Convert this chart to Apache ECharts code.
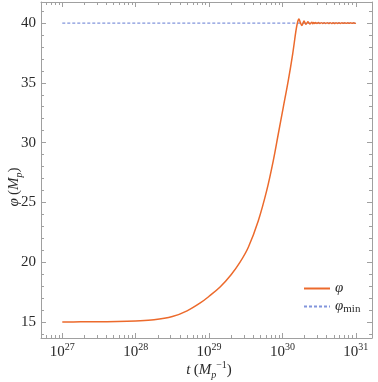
<!DOCTYPE html>
<html><head><meta charset="utf-8">
<script src="https://cdn.jsdelivr.net/npm/echarts@6/dist/echarts.min.js"></script>
<style>html,body{margin:0;padding:0;background:#fff}#c{width:378px;height:382px}</style>
</head><body><div id="c"></div>
<script>
// log10(t) values (t in Mp^-1)
const logT = [27.0, 27.25, 27.5, 27.75, 28.0, 28.25, 28.5, 28.7, 28.88, 29.0, 29.15, 29.3, 29.42, 29.535, 29.671, 29.785, 29.875, 29.943, 30.011, 30.079, 30.139, 30.184, 30.205, 30.224, 30.245, 30.265, 30.28, 30.293, 30.307, 30.32, 30.333, 30.347, 30.36, 30.374, 30.387, 30.40, 30.413, 30.427, 30.44, 30.453, 30.47, 30.49, 30.51, 30.53, 30.55, 30.57, 30.59, 30.61, 30.63, 30.65, 30.67, 30.69, 30.71, 30.73, 30.75, 30.77, 30.79, 30.81, 30.83, 30.85, 30.87, 30.89, 30.91, 30.93, 30.95, 30.97, 30.99, 31.0];
const phiVals = [15.00, 15.01, 15.02, 15.04, 15.09, 15.18, 15.45, 15.93, 16.59, 17.15, 17.92, 18.95, 19.98, 21.25, 23.47, 25.98, 28.49, 30.72, 32.95, 35.18, 37.41, 39.36, 40.05, 40.33, 40.02, 39.80, 39.98, 40.17, 40.03, 39.90, 40.00, 40.10, 40.00, 39.93, 40.00, 40.07, 39.95, 40.05, 39.96, 40.04, 39.96, 40.04, 39.965, 40.035, 39.965, 40.035, 39.967, 40.033, 39.968, 40.032, 39.97, 40.03, 39.97, 40.03, 39.972, 40.028, 39.972, 40.028, 39.974, 40.026, 39.975, 40.025, 39.976, 40.024, 39.977, 40.023, 39.978, 40.0];
const phiMinLogT = [27, 31];
const phiMinVals = [40, 40];
const xMajorTicks = [27, 28, 29, 30, 31];
const yMajorTicks = [15, 20, 25, 30, 35, 40];

const xMin = 26.71, xMax = 31.22, yMin = 13.66, yMax = 41.76;
const xMinorTicks = [];
for (let n = 26; n <= 31; n++) for (let k = 2; k <= 9; k++) {
  const v = n + Math.log10(k);
  if (v > xMin && v < xMax) xMinorTicks.push(v);
}
const yMinorTicks = [];
for (let v = 14; v <= 41; v++) if (v % 5 !== 0) yMinorTicks.push(v);

const frameColor = '#a0a0a0';
const serif = 'Liberation Serif';
const lab = '#2a2a2a';

function xAx(position, ticks, len, showLabel, showLine) {
  return {
    type: 'value', min: xMin, max: xMax, position: position,
    axisLine: {show: showLine, onZero: false, lineStyle: {color: frameColor, width: 1}},
    axisTick: {show: true, inside: true, length: len, customValues: ticks, lineStyle: {color: frameColor}},
    axisLabel: showLabel ? {
      customValues: ticks, margin: 4,
      formatter: v => '{b|10}{s|' + Math.round(v) + '}',
      rich: {
        b: {fontFamily: serif, fontSize: 15, color: lab, lineHeight: 18, verticalAlign: 'bottom'},
        s: {fontFamily: serif, fontSize: 10, color: lab, lineHeight: 18, verticalAlign: 'top', padding: [0, 0, 8, 0]}
      }
    } : {show: false},
    splitLine: {show: false}
  };
}
function yAx(position, ticks, len, showLabel, showLine) {
  return {
    type: 'value', min: yMin, max: yMax, position: position,
    axisLine: {show: showLine, onZero: false, lineStyle: {color: frameColor, width: 1}},
    axisTick: {show: true, inside: true, length: len, customValues: ticks, lineStyle: {color: frameColor}},
    axisLabel: showLabel ? {customValues: ticks, margin: 5, fontFamily: serif, fontSize: 15, color: lab} : {show: false},
    splitLine: {show: false}
  };
}

const chart = echarts.init(document.getElementById('c'), null, {renderer: 'canvas'});
chart.setOption({
  animation: false,
  backgroundColor: '#fff',
  grid: {left: 41, right: 6, top: 2, bottom: 44, containLabel: false},
  xAxis: [
    xAx('bottom', xMajorTicks, 5, true, true),
    xAx('bottom', xMinorTicks, 3, false, false),
    xAx('top', xMajorTicks, 5, false, true),
    xAx('top', xMinorTicks, 3, false, false)
  ],
  yAxis: [
    yAx('left', yMajorTicks, 5, true, true),
    yAx('left', yMinorTicks, 3, false, false),
    yAx('right', yMajorTicks, 5, false, true),
    yAx('right', yMinorTicks, 3, false, false)
  ],
  legend: {
    orient: 'vertical', left: 298, top: 276, itemWidth: 26, itemHeight: 10, itemGap: 3,
    data: ['phi', 'phimin'],
    itemStyle: {opacity: 0},
    formatter: n => n === 'phimin' ? '{i|φ}{m|min}' : '{i|φ}',
    textStyle: {
      rich: {
        i: {fontFamily: serif, fontStyle: 'italic', fontSize: 15, color: lab, lineHeight: 16},
        m: {fontFamily: serif, fontSize: 11, color: lab, lineHeight: 16, verticalAlign: 'bottom', padding: [4, 0, 0, 0]}
      }
    }
  },
  series: [
    {
      name: 'phimin', type: 'line', xAxisIndex: 0, yAxisIndex: 0, symbol: 'none', z: 2,
      data: phiMinLogT.map((x, i) => [x, phiMinVals[i]]),
      lineStyle: {color: '#8295dc', width: 1.3, type: [3, 2]},
      itemStyle: {color: '#8295dc'}
    },
    {
      name: 'phi', type: 'line', xAxisIndex: 0, yAxisIndex: 0, symbol: 'none', smooth: 0.35, z: 3,
      data: logT.map((x, i) => [x, phiVals[i]]),
      lineStyle: {color: '#ec6a2c', width: 1.5},
      itemStyle: {color: '#ec6a2c'}
    }
  ],
  graphic: [
    {
      type: 'text', x: 209, y: 370,
      style: {
        text: '{i|t} {n|(}{i|M}{sb|p}{sp|−1}{n|)}',
        align: 'center', verticalAlign: 'middle',
        rich: {
          i: {fontFamily: serif, fontStyle: 'italic', fontSize: 15, fill: lab, lineHeight: 20},
          n: {fontFamily: serif, fontSize: 15, fill: lab, lineHeight: 20},
          sb: {fontFamily: serif, fontStyle: 'italic', fontSize: 10, fill: lab, lineHeight: 20, verticalAlign: 'bottom', padding: [6, 0, 0, 0]},
          sp: {fontFamily: serif, fontSize: 10, fill: lab, lineHeight: 20, verticalAlign: 'top', padding: [0, 0, 4, 0]}
        }
      }
    },
    {
      type: 'text', x: 14, y: 187, rotation: Math.PI / 2,
      style: {
        text: '{i|φ} {n|(}{i|M}{sb|p}{n|)}',
        align: 'center', verticalAlign: 'middle',
        rich: {
          i: {fontFamily: serif, fontStyle: 'italic', fontSize: 15, fill: lab, lineHeight: 20},
          n: {fontFamily: serif, fontSize: 15, fill: lab, lineHeight: 20},
          sb: {fontFamily: serif, fontStyle: 'italic', fontSize: 10, fill: lab, lineHeight: 20, verticalAlign: 'bottom', padding: [6, 0, 0, 0]}
        }
      }
    }
  ]
});
</script></body></html>
